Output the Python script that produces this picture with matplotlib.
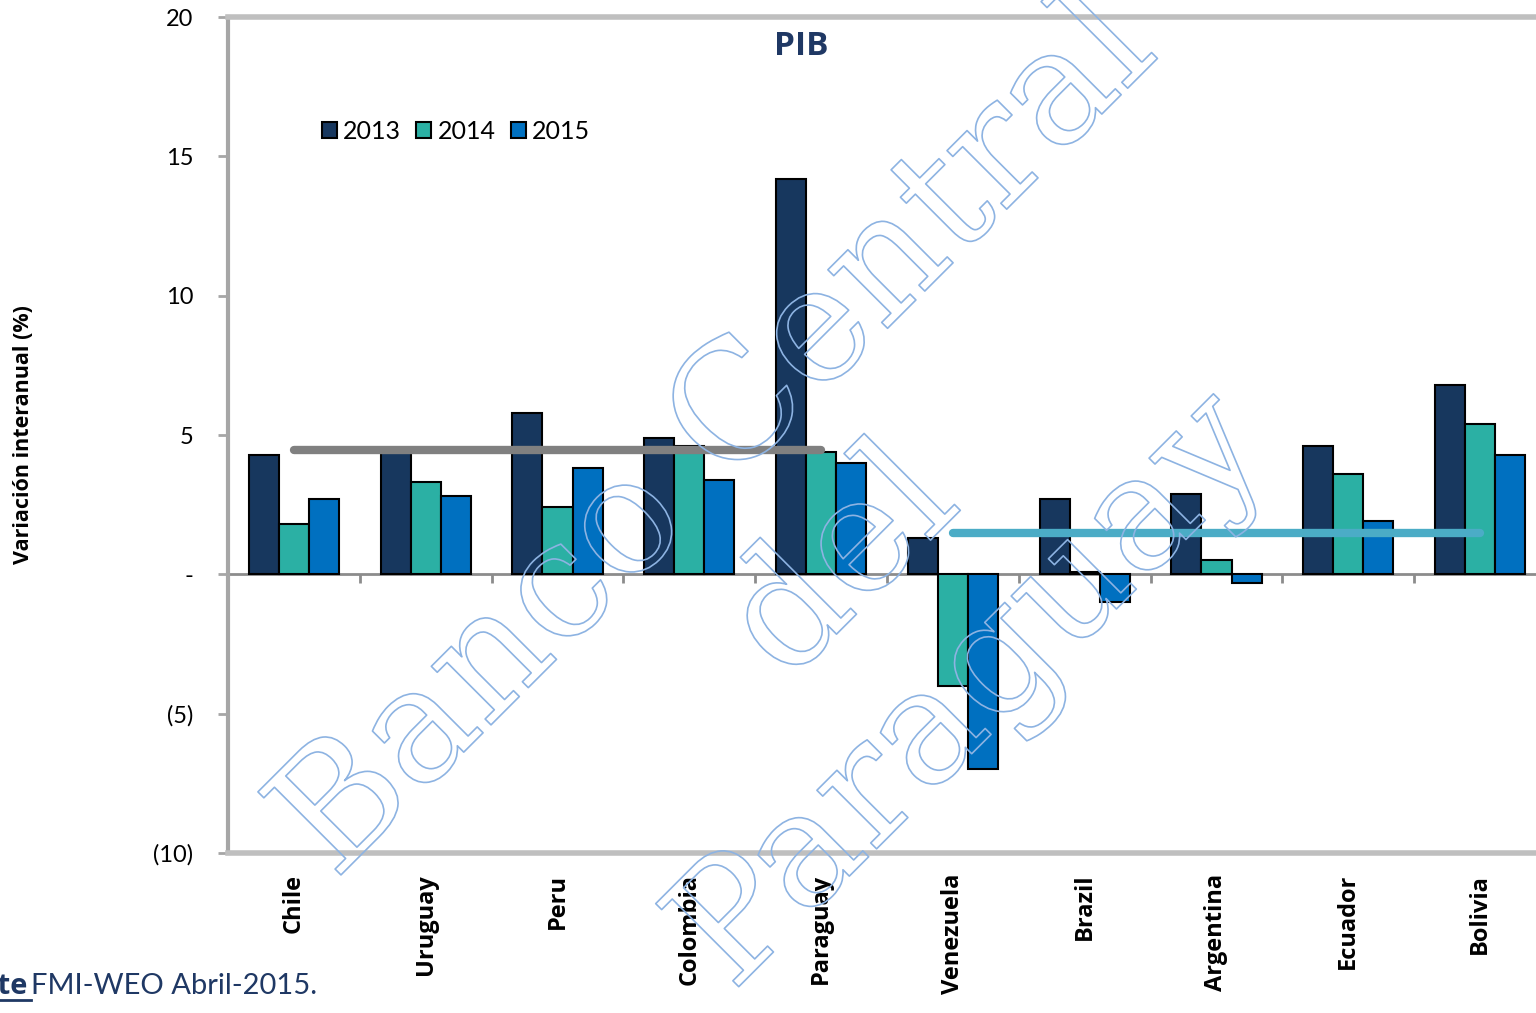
import numpy as np
import matplotlib.pyplot as plt
from matplotlib import patheffects
from matplotlib.lines import Line2D

plt.rcParams["font.family"] = ["Lato", "DejaVu Sans"]

countries = ["Chile", "Uruguay", "Peru", "Colombia", "Paraguay",
             "Venezuela", "Brazil", "Argentina", "Ecuador", "Bolivia"]
years = ["2013", "2014", "2015"]
pib_2013 = [4.3, 4.4, 5.8, 4.9, 14.2, 1.3, 2.7, 2.9, 4.6, 6.8]
pib_2014 = [1.8, 3.3, 2.4, 4.6, 4.4, -4.0, 0.1, 0.5, 3.6, 5.4]
pib_2015 = [2.7, 2.8, 3.8, 3.4, 4.0, -7.0, -1.0, -0.3, 1.9, 4.3]
avg_left = 4.45   # Chile..Paraguay
avg_right = 1.47  # Venezuela..Bolivia
yticks = [20, 15, 10, 5, 0, -5, -10]
ytick_labels = ["20", "15", "10", "5", "-", "(5)", "(10)"]

colors = ["#17375E", "#2BB0A4", "#0070C0"]
navy = "#1F3864"
bold_font = ["Open Sans", "DejaVu Sans"]

fig = plt.figure(figsize=(15.36, 10.13), dpi=100)
ax = fig.add_axes([228 / 1536, 1 - 853 / 1013, 1318 / 1536, 836 / 1013])

x = np.arange(len(countries))
w = 0.228
for k, vals in enumerate([pib_2013, pib_2014, pib_2015]):
    ax.bar(x + (k - 1) * w, vals, width=w, color=colors[k], edgecolor="black",
           linewidth=1.5, label=years[k], zorder=3)

# averages
ax.plot([0, 4], [avg_left, avg_left], color="#808080", lw=6, solid_capstyle="round", zorder=4)
ax.plot([5, 9], [avg_right, avg_right], color="#4BACC6", lw=6, solid_capstyle="round", zorder=4)

# zero line with category ticks
ax.axhline(0, color="#8c8c8c", lw=2, zorder=2)
ax.vlines(x[1:] - 0.5, -0.3, 0, color="#8c8c8c", lw=2, zorder=2)

ax.set_xlim(-0.5, len(countries) - 0.5)
ax.set_ylim(-10, 20)
ax.set_yticks(yticks)
ax.set_yticklabels(ytick_labels, fontsize=17)
ax.set_xticks(x)
ax.set_xticklabels(countries, rotation=90, fontsize=17, fontweight="bold",
                   family=bold_font, va="top")
ax.tick_params(axis="x", length=0, pad=15)
ax.tick_params(axis="y", length=7, width=2, color="#a6a6a6", pad=18)

for side in ["top", "bottom"]:
    ax.spines[side].set_color("#bfbfbf")
    ax.spines[side].set_linewidth(4)
ax.spines["left"].set_color("#a6a6a6")
ax.spines["left"].set_linewidth(3)
ax.spines["right"].set_visible(False)

ax.set_ylabel("Variación interanual (%)", fontsize=15.5, fontweight="bold", family=bold_font)
ax.yaxis.set_label_coords(-0.147, 0.5)

ax.text(0.435, 0.965, "PIB", transform=ax.transAxes, ha="center", va="center",
        fontsize=24, fontweight="bold", family=bold_font, color=navy)

ax.legend(loc="center left", bbox_to_anchor=(312 / 1536, 1 - 131 / 1013),
          bbox_transform=fig.transFigure, ncol=3, frameon=False, fontsize=18,
          handlelength=0.6, handleheight=0.6, handletextpad=0.25,
          columnspacing=0.6, borderaxespad=0)

# source note
fig.text(28 / 1536, 1 - 986 / 1013, "Fuente", ha="right", va="center",
         fontsize=21, fontweight="bold", family=bold_font, color=navy)
fig.text(31 / 1536, 1 - 986 / 1013, "FMI-WEO Abril-2015.", ha="left", va="center",
         fontsize=21, color=navy)
fig.add_artist(Line2D([0, 31 / 1536], [1 - 1000 / 1013] * 2, color=navy, lw=2))

# watermark
wm = fig.text(845 / 1536, 1 - 565 / 1013, "Banco Central\ndel\nParaguay",
              ha="center", va="center", rotation=45, rotation_mode="anchor",
              fontsize=116, family="DejaVu Serif", color="none",
              multialignment="center", linespacing=1.2, zorder=10)
wm.set_path_effects([patheffects.withStroke(linewidth=1.2, foreground="#8DB3E2")])

fig.savefig("out.png", dpi=100)
